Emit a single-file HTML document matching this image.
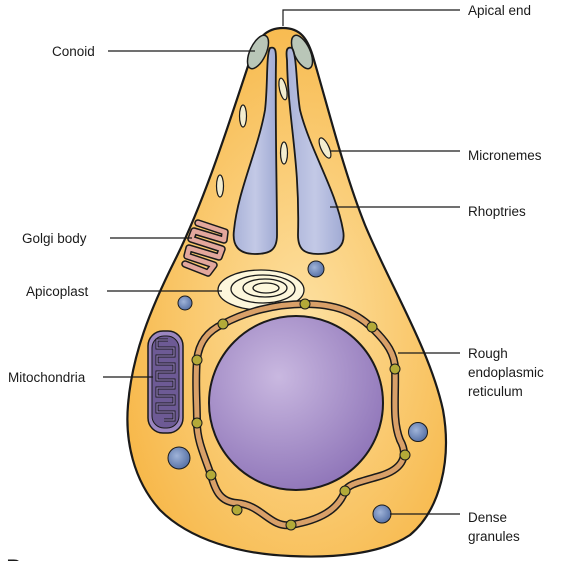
<!DOCTYPE html>
<html><head><meta charset="utf-8"><style>
html,body{margin:0;padding:0;background:#fff;width:561px;height:561px;overflow:hidden}
svg{display:block}
text{font-family:"Liberation Sans",Arial,sans-serif;font-size:13.5px;fill:#1a1a1a}
</style></head><body>
<svg width="561" height="561" viewBox="0 0 561 561">
<defs>
<radialGradient id="cyt" cx="0.55" cy="0.55" r="0.6"><stop offset="0" stop-color="#fde0a0"/><stop offset="1" stop-color="#f7b84a"/></radialGradient>
<radialGradient id="nuc" cx="0.4" cy="0.35" r="0.7"><stop offset="0" stop-color="#c9b8e0"/><stop offset="1" stop-color="#8e74b8"/></radialGradient>
<linearGradient id="rho" x1="0" y1="0" x2="1" y2="0"><stop offset="0" stop-color="#a9b2d8"/><stop offset="0.5" stop-color="#c3c9e6"/><stop offset="1" stop-color="#a0aad4"/></linearGradient>
<radialGradient id="gran" cx="0.4" cy="0.4" r="0.6"><stop offset="0" stop-color="#9fb3d8"/><stop offset="1" stop-color="#5a74a8"/></radialGradient>
</defs>
<g>
<path d="M283,28 C300,28 308,38 314,60 C330,115 345,175 365,225 C390,285 430,350 443,410 C452,460 440,510 410,535 C380,555 330,558 290,556 C240,554 190,540 160,510 C133,480 125,440 128,405 C132,355 150,310 175,260 C205,200 230,120 250,60 C257,38 266,28 283,28 Z" fill="url(#cyt)" stroke="#1a1a1a" stroke-width="2.2"/>
</g>
<g fill="#b9c6b8" stroke="#1a1a1a" stroke-width="1.5">
<ellipse cx="258" cy="52" rx="8" ry="18" transform="rotate(25 258 52)"/>
<ellipse cx="302" cy="52" rx="8" ry="18" transform="rotate(-25 302 52)"/>
</g>
<g fill="url(#rho)" stroke="#1a1a1a" stroke-width="1.8">
<path d="M270,48 C276,46 276,52 276,60 C275,120 277,190 277,235 C277,250 270,254 255,254 C238,254 232,245 234,230 C238,190 258,150 265,110 C268,85 266,55 270,48 Z"/>
<path d="M292,48 C286,46 286,52 287,60 C288,120 300,160 298,235 C298,250 305,254 318,254 C338,254 346,245 343,230 C336,190 310,150 300,110 C296,85 297,55 292,48 Z"/>
</g>
<g fill="#f3edcf" stroke="#1a1a1a" stroke-width="1.2">
<ellipse cx="283" cy="89" rx="3.5" ry="11" transform="rotate(-12 283 89)"/>
<ellipse cx="243" cy="116" rx="3.5" ry="11"/>
<ellipse cx="284" cy="153" rx="3.5" ry="11"/>
<ellipse cx="325" cy="148" rx="4" ry="11" transform="rotate(-25 325 148)"/>
<ellipse cx="220" cy="186" rx="3.5" ry="11"/>
</g>
<g>
<polyline points="198,223 225,232 224,240 194,231 191,239 222,249 219,257 189,248 187,256 214,265 208,273 185,264" fill="none" stroke="#1a1a1a" stroke-width="7.5" stroke-linecap="round" stroke-linejoin="round"/>
<polyline points="198,223 225,232 224,240 194,231 191,239 222,249 219,257 189,248 187,256 214,265 208,273 185,264" fill="none" stroke="#e3a79c" stroke-width="4.5" stroke-linecap="round" stroke-linejoin="round"/>
</g>
<g fill="#fdf7dc" stroke="#1a1a1a" stroke-width="1.3">
<ellipse cx="261" cy="290" rx="43" ry="20"/>
<ellipse cx="263" cy="289" rx="32" ry="14" fill="none"/>
<ellipse cx="265" cy="288" rx="22" ry="9" fill="none"/>
<ellipse cx="266" cy="288" rx="13" ry="5" fill="none"/>
</g>
<g fill="url(#gran)" stroke="#1a1a1a" stroke-width="1">
<circle cx="316" cy="269" r="8"/>
<circle cx="185" cy="303" r="7"/>
<circle cx="179" cy="458" r="11"/>
<circle cx="418" cy="432" r="9.5"/>
<circle cx="382" cy="514" r="9"/>
</g>
<g>
<rect x="148" y="331" width="35" height="102" rx="15" fill="#9b86c0" stroke="#1a1a1a" stroke-width="1.5"/>
<rect x="152" y="336" width="27" height="92" rx="12" fill="#6d5a95" stroke="#1a1a1a" stroke-width="1"/>
<path d="M168,340 L157,340 L157,348 L174,348 L174,356 L157,356 L157,364 L174,364 L174,372 L157,372 L157,380 L174,380 L174,388 L157,388 L157,396 L174,396 L174,404 L157,404 L157,412 L174,412 L174,420 L164,420" fill="none" stroke="#1a1a1a" stroke-width="3"/>
<path d="M168,340 L157,340 L157,348 L174,348 L174,356 L157,356 L157,364 L174,364 L174,372 L157,372 L157,380 L174,380 L174,388 L157,388 L157,396 L174,396 L174,404 L157,404 L157,412 L174,412 L174,420 L164,420" fill="none" stroke="#8a76b2" stroke-width="1.3"/>
</g>
<g>
<path d="M305,304 C335,304 355,312 371,327 C388,343 395,355 395,369 C396,395 392,420 400,440 C410,458 400,470 380,476 C360,482 348,484 345,491 C338,510 320,520 291,525 C270,528 262,505 237,503 C220,502 215,490 211,475 C204,455 197,440 197,423 C197,400 195,380 197,360 C199,340 210,330 223,324 C245,312 275,304 305,304 Z" fill="none" stroke="#1a1a1a" stroke-width="8"/>
<path d="M305,304 C335,304 355,312 371,327 C388,343 395,355 395,369 C396,395 392,420 400,440 C410,458 400,470 380,476 C360,482 348,484 345,491 C338,510 320,520 291,525 C270,528 262,505 237,503 C220,502 215,490 211,475 C204,455 197,440 197,423 C197,400 195,380 197,360 C199,340 210,330 223,324 C245,312 275,304 305,304 Z" fill="none" stroke="#d9a068" stroke-width="5"/>
<g fill="#b3aa38" stroke="#1a1a1a" stroke-width="1">
<circle cx="305" cy="304" r="5"/><circle cx="372" cy="327" r="5"/><circle cx="395" cy="369" r="5"/>
<circle cx="405" cy="455" r="5"/><circle cx="345" cy="491" r="5"/><circle cx="291" cy="525" r="5"/>
<circle cx="237" cy="510" r="5"/><circle cx="211" cy="475" r="5"/><circle cx="197" cy="423" r="5"/>
<circle cx="197" cy="360" r="5"/><circle cx="223" cy="324" r="5"/>
</g>
</g>
<circle cx="296" cy="403" r="87" fill="url(#nuc)" stroke="#1a1a1a" stroke-width="2"/>
<g stroke="#1a1a1a" stroke-width="1.2" fill="none">
<path d="M283,26 L283,10 L460,10"/>
<path d="M108,51 L255,51"/>
<path d="M330,151 L460,151"/>
<path d="M330,207 L460,207"/>
<path d="M110,238 L192,238"/>
<path d="M107,291 L222,291"/>
<path d="M103,377 L153,377"/>
<path d="M398,353 L460,353"/>
<path d="M390,514 L460,514"/>
</g>
<text x="468" y="15">Apical end</text>
<text x="52" y="56">Conoid</text>
<text x="468" y="160">Micronemes</text>
<text x="468" y="216">Rhoptries</text>
<text x="22" y="243">Golgi body</text>
<text x="26" y="296">Apicoplast</text>
<text x="8" y="382">Mitochondria</text>
<text x="468" y="358"><tspan x="468">Rough</tspan><tspan x="468" dy="19">endoplasmic</tspan><tspan x="468" dy="19">reticulum</tspan></text>
<text x="468" y="522"><tspan x="468">Dense</tspan><tspan x="468" dy="19">granules</tspan></text>
<text x="6" y="576" style="font-size:24px">B</text>
</svg>
</body></html>
